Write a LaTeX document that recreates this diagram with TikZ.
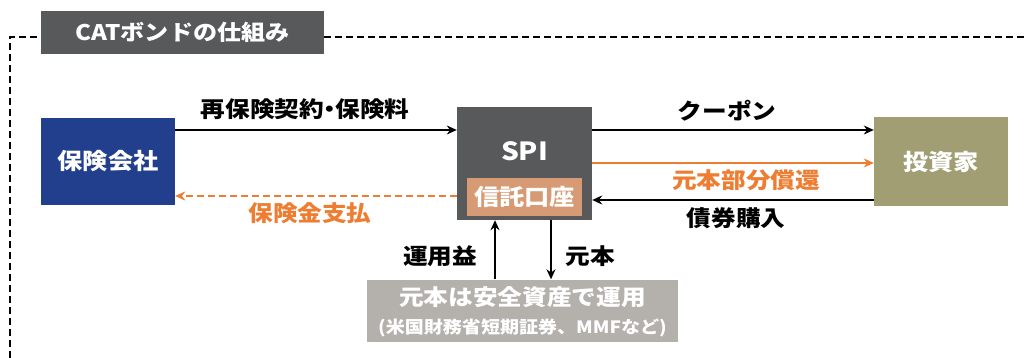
\documentclass[tikz,border=0pt]{standalone}
\usepackage{fontspec}
\setmainfont{Noto Sans CJK JP}[FakeStretch=1.12]
\usetikzlibrary{arrows.meta}
\definecolor{darkgray}{HTML}{58595B}
\definecolor{navy}{HTML}{213F8C}
\definecolor{olive}{HTML}{A09E72}
\definecolor{trust}{HTML}{D69A74}
\definecolor{lightbox}{HTML}{B4B0AC}
\definecolor{orng}{HTML}{ED7D31}
\tikzset{
  box/.style={draw=none, inner sep=0pt, text=white, font=\bfseries\fontsize{22.5}{25}\selectfont},
  lbl/.style={inner sep=0pt, font=\bfseries\fontsize{22}{25}\selectfont},
  arr/.style={-{Stealth[length=10pt,width=9pt]}, line width=1.3pt},
  oarr/.style={arr, draw=orng},
  frame/.style={dash pattern=on 7pt off 4pt, line width=1.8pt}
}
\begin{document}
\begin{tikzpicture}[x=1pt,y=-1pt]
\useasboundingbox[fill=white] (0,0) rectangle (1027,358);
% frame
\coordinate (fl) at (10,37);
\coordinate (fb) at (10,358);
\coordinate (fr) at (1027,37);
\node[box, fill=darkgray, minimum width=283pt, minimum height=43pt, font=\bfseries\fontsize{21.5}{24}\selectfont] (title) at (182.5,32.5) {CATボンドの仕組み};
\draw[frame] (fb) -- (fl) -- (title.west |- fl);
\draw[frame] (title.east |- fr) -- (fr);
% boxes
\node[box, fill=navy, minimum width=134pt, minimum height=87pt] (ins) at (108,161.5) {保険会社};
\node[box, fill=darkgray, minimum width=135pt, minimum height=113pt] (spi) at (524.5,163.5) {};
\node[box, text=white, font=\bfseries\fontsize{25}{28}\selectfont] (spit) at (524.5,151) {SPI};
\node[box, fill=trust, minimum width=115pt, minimum height=38pt] (trustb) at (524.5,197) {信託口座};
\node[box, fill=olive, minimum width=134pt, minimum height=88pt] (inv) at (941,161.5) {投資家};
\node[box, fill=lightbox, minimum width=311pt, minimum height=62pt] (safe) at (522.5,310.5) {};
\node[box, font=\bfseries\fontsize{22}{24}\selectfont] (safe1) at (522.5,297) {元本は安全資産で運用};
\node[box, font=\bfseries\fontsize{17}{19}\selectfont] (safe2) at (522.5,328) {(米国財務省短期証券、MMFなど)};
% arrows
\draw[arr] (ins.east |- 0,130) -- (spi.west |- 0,130);
\node[lbl] (l1) at (305,109) {再保険契約\kern-0.3em・\kern-0.3em保険料};
\draw[oarr, dash pattern=on 7pt off 4pt] (spi.west |- 0,196) -- (ins.east |- 0,196);
\node[lbl, text=orng] (l2) at (310,213) {保険金支払};
\draw[arr] (spi.east |- 0,130) -- (inv.west |- 0,130);
\node[lbl] (l3) at (727,111) {クーポン};
\draw[oarr] (spi.east |- 0,163) -- (inv.west |- 0,163);
\node[lbl, text=orng] (l4) at (746,180) {元本部分償還};
\draw[arr] (inv.west |- 0,200) -- (spi.east |- 0,200);
\node[lbl] (l5) at (736,218) {債券購入};
\draw[arr] (safe.north -| 495,0) -- (spi.south -| 495,0);
\node[lbl] (l6) at (440,256) {運用益};
\draw[arr] (spi.south -| 551,0) -- (safe.north -| 551,0);
\node[lbl] (l7) at (590,256) {元本};
\end{tikzpicture}
\end{document}
